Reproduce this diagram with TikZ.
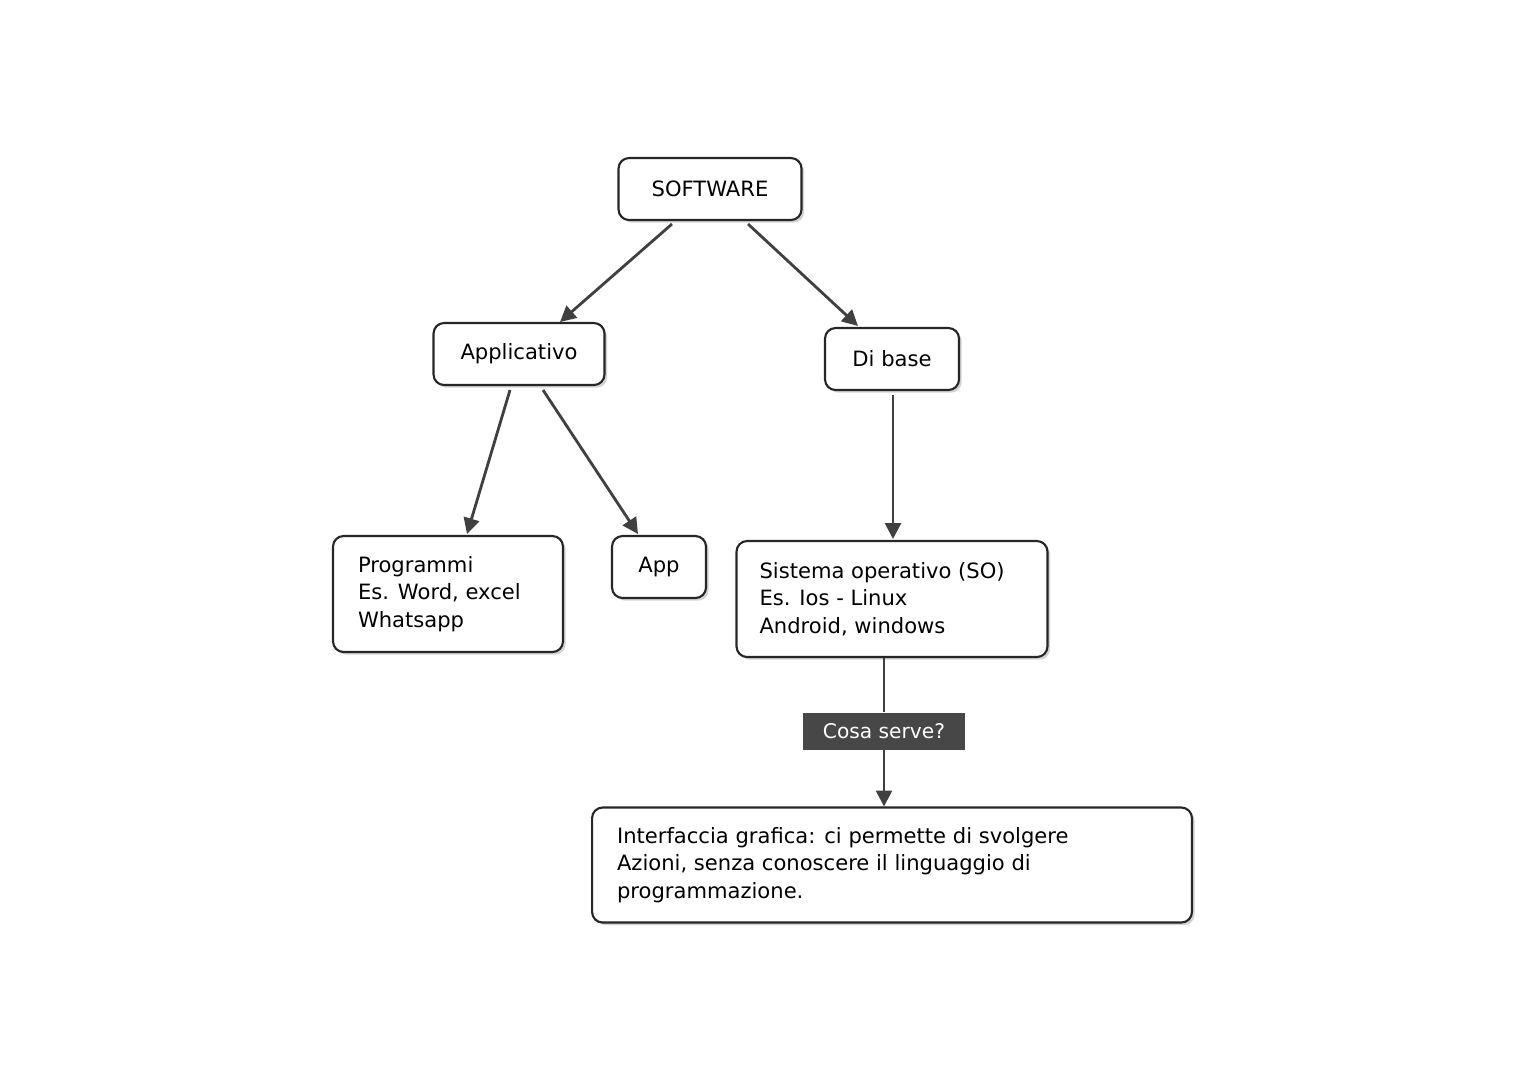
\documentclass[tikz,border=0pt]{standalone}
\usepackage{fontspec}
\setmainfont{DejaVu Sans}
\usetikzlibrary{shadows,arrows.meta}
\begin{document}
\begin{tikzpicture}[x=0.02cm,y=-0.02cm,
  box/.style={draw=black!85,line width=1.2pt,rounded corners=6pt,fill=white,
    drop shadow={shadow xshift=1.5pt,shadow yshift=-1.5pt,opacity=0.35},
    font=\fontsize{12pt}{15.5pt}\selectfont,inner sep=0pt},
  arr/.style={draw=black!75,line width=1.6pt,-{Triangle[length=9pt,width=9pt]}},
  ln/.style={draw=black!75,line width=1.6pt}]
\useasboundingbox (0,0) rectangle (1527,1080);
\node[box,minimum width=3.66cm,minimum height=1.24cm] (sw) at (710,189) {SOFTWARE};
\node[box,minimum width=3.42cm,minimum height=1.24cm] (ap) at (519,354) {Applicativo};
\node[box,minimum width=2.68cm,minimum height=1.24cm] (db) at (892,359) {Di base};
\node[box,minimum width=4.6cm,minimum height=2.32cm] (pr) at (448,594) {\begin{minipage}{3.6cm}Programmi\\Es. Word, excel\\Whatsapp\end{minipage}};
\node[box,minimum width=1.88cm,minimum height=1.24cm] (app) at (659,567) {App};
\node[box,minimum width=6.22cm,minimum height=2.32cm] (so) at (892,599) {\begin{minipage}{5.3cm}Sistema operativo (SO)\\Es. Ios - Linux\\Android, windows\end{minipage}};
\node[fill=black!72,text=white,minimum width=3.26cm,minimum height=0.74cm,inner sep=0pt,font=\fontsize{11.5pt}{14pt}\selectfont] (cs) at (884,731) {Cosa serve?};
\node[box,minimum width=12cm,minimum height=2.3cm] (gi) at (892,865) {\begin{minipage}{11cm}Interfaccia grafica: ci permette di svolgere\\Azioni, senza conoscere il linguaggio di\\programmazione.\end{minipage}};
\coordinate (a1) at (672,224); \coordinate (b1) at (560,322);
\coordinate (a2) at (748,224); \coordinate (b2) at (858,326);
\coordinate (a3) at (510,390); \coordinate (b3) at (467,534);
\coordinate (a4) at (543,390); \coordinate (b4) at (638,534);
\coordinate (a5) at (893,395); \coordinate (b5) at (893,539);
\draw[arr] (a1) -- (b1);
\draw[arr] (a2) -- (b2);
\draw[arr] (a3) -- (b3);
\draw[arr] (a4) -- (b4);
\draw[arr] (a5) -- (b5);
\draw[ln] (so.south -| cs.north) -- (cs.north);
\draw[arr] (cs.south) -- (cs.south |- gi.north);
\end{tikzpicture}
\end{document}
